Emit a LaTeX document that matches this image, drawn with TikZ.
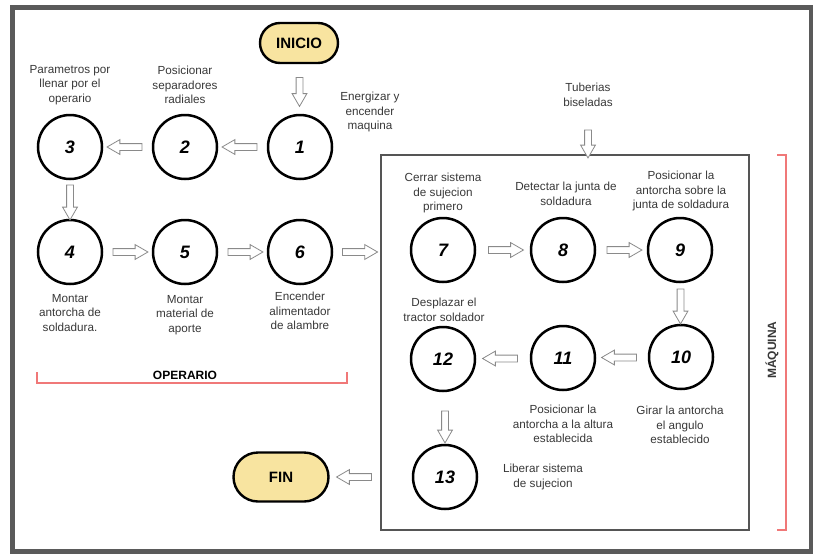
\documentclass[tikz,border=0pt]{standalone}
\usepackage{fontspec}
\setmainfont{Liberation Sans}
\usetikzlibrary{shapes.arrows,shapes.misc,calc}
\definecolor{framegray}{HTML}{5A5A5A}
\definecolor{boxgray}{HTML}{555555}
\definecolor{pill}{HTML}{F8E4A0}
\definecolor{bracket}{HTML}{F07878}
\definecolor{txt}{HTML}{383838}
\definecolor{arrgray}{HTML}{8A8A8A}
\tikzset{
  stepcirc/.style={circle,draw=black,line width=2.5pt,minimum size=64pt,inner sep=0pt,
    font=\fontsize{18}{18}\selectfont\bfseries\itshape},
  pillbox/.style={rounded rectangle,draw=black,line width=2.4pt,fill=pill,inner sep=0pt,
    font=\fontsize{15}{15}\selectfont\bfseries},
  lbl/.style={align=center,text=txt,inner sep=0pt,font=\fontsize{11.7}{14.5}\selectfont},
  blockarr/.style={single arrow,draw=arrgray,fill=white,line width=0.8pt,inner sep=3pt,
    minimum width=14pt,single arrow head extend=4pt,single arrow tip angle=60,
    minimum height=#1},
  blockarr/.default=35pt,
  brk/.style={draw=bracket,line width=2.2pt},
}
\begin{document}
\begin{tikzpicture}[x=1pt,y=-1pt]
\useasboundingbox (0,0) rectangle (813,554);
% outer frame
\draw[framegray,line width=5pt] (12,7) rectangle (811,551);
% machine box
\draw[boxgray,line width=2.5pt] (381,155) rectangle (749,530);
\coordinate (mleft) at (381,252);
\coordinate (mtop) at (588,155);

% start / end
\node[pillbox,minimum width=78pt,minimum height=40pt] (inicio) at (299,43) {INICIO};
\node[pillbox,minimum width=95pt,minimum height=49pt] (fin) at (281,477) {FIN};

% circles
\node[stepcirc] (c1) at (300,147) {1};
\node[stepcirc] (c2) at (185,147) {2};
\node[stepcirc] (c3) at (70,147) {3};
\node[stepcirc] (c4) at (70,252) {4};
\node[stepcirc] (c5) at (185,252) {5};
\node[stepcirc] (c6) at (300,252) {6};
\node[stepcirc] (c7) at (443,250) {7};
\node[stepcirc] (c8) at (563,250) {8};
\node[stepcirc] (c9) at (680,250) {9};
\node[stepcirc] (c10) at (681,357) {10};
\node[stepcirc] (c11) at (563,358) {11};
\node[stepcirc] (c12) at (443,359) {12};
\node[stepcirc] (c13) at (445,477) {13};

% labels
\node[lbl] (l3) at (70,85) {Parametros por\\llenar por el\\operario};
\node[lbl] (l2) at (185,85) {Posicionar\\separadores\\radiales};
\node[lbl] (l1) at (370,112) {Energizar y\\encender\\maquina};
\node[lbl] (ltub) at (588,95) {Tuberias\\biseladas};
\node[lbl] (l7) at (443,193) {Cerrar sistema\\de sujecion\\primero};
\node[lbl] (l8) at (566,194) {Detectar la junta de\\soldadura};
\node[lbl] (l9) at (681,191) {Posicionar la\\antorcha sobre la\\junta de soldadura};
\node[lbl] (l4) at (70,313) {Montar\\antorcha de\\soldadura.};
\node[lbl] (l5) at (185,315) {Montar\\material de\\aporte};
\node[lbl] (l6) at (300,311) {Encender\\alimentador\\de alambre};
\node[lbl] (l12) at (444,310) {Desplazar el\\tractor soldador};
\node[lbl] (l11) at (563,424) {Posicionar la\\antorcha a la altura\\establecida};
\node[lbl] (l10) at (680,425) {Girar la antorcha\\el angulo\\establecido};
\node[lbl] (l13) at (543,477) {Liberar sistema\\de sujecion};

% block arrows
\node[blockarr=29pt,shape border rotate=270] (a01) at ($(inicio.south)!0.5!(c1.north)$) {};
\node[blockarr,shape border rotate=180] (a12) at ($(c1)!0.5!(c2)$) {};
\node[blockarr,shape border rotate=180] (a23) at ($(c2)!0.5!(c3)$) {};
\node[blockarr,shape border rotate=270] (a34) at ($(c3)!0.5!(c4)$) {};
\node[blockarr] (a45) at ($(c4)!0.5!(c5)$) {};
\node[blockarr] (a56) at ($(c5)!0.5!(c6)$) {};
\node[blockarr] (a67) at ($(c6.east)!0.5!(mleft)$) {};
\node[blockarr=28pt,shape border rotate=270] (atub) at ($(mtop)+(0,-14)$) {};
\node[blockarr] (a78) at ($(c7)!0.5!(c8)$) {};
\node[blockarr] (a89) at ($(c8)!0.5!(c9)$) {};
\node[blockarr,shape border rotate=270] (a910) at ($(c9)!0.5!(c10)$) {};
\node[blockarr,shape border rotate=180] (a1011) at ($(c10)!0.5!(c11)$) {};
\node[blockarr,shape border rotate=180] (a1112) at ($(c11)!0.5!(c12)$) {};
\node[blockarr=32pt,shape border rotate=270] (a1213) at (445,424) {};
\node[blockarr,shape border rotate=180] (a13f) at (357,477) {};

% brackets
\draw[brk] (37,372) -- (37,383) -- (347,383) -- (347,372);
\node[inner sep=0pt,text=black,font=\fontsize{12}{12}\selectfont\bfseries] (oper) at (185,375) {OPERARIO};
\draw[brk] (777,155) -- (786,155) -- (786,530) -- (777,530);
\node[inner sep=0pt,text=txt,rotate=90,font=\fontsize{12}{12}\selectfont\bfseries] (maq) at (772,350) {MÁQUINA};
\end{tikzpicture}
\end{document}
